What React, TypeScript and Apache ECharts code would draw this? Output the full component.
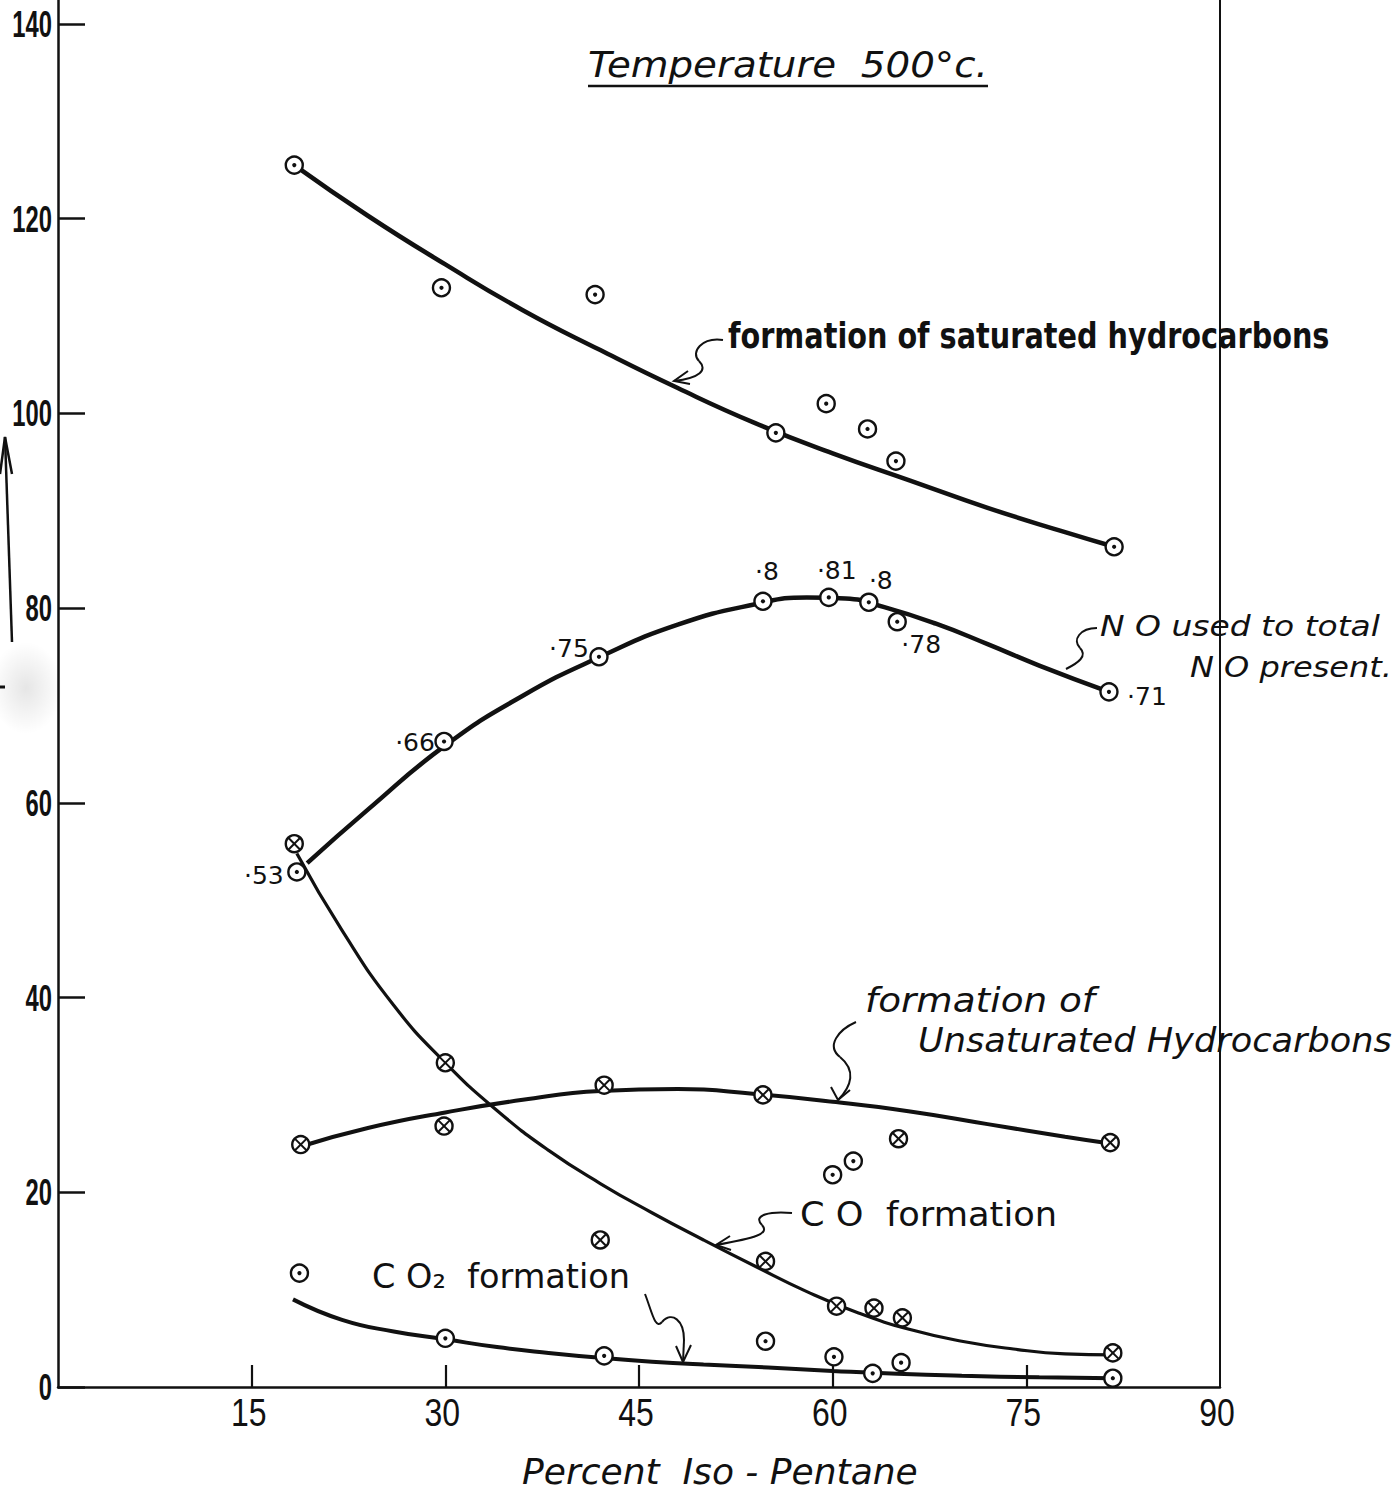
import React, { useEffect, useRef } from "react";
import * as echarts from "echarts";

// ---------- axis ticks ----------
const xTickValues = [15, 30, 45, 60, 75];
const xLabelValues = [15, 30, 45, 60, 75, 90];
const yTickValues = [0, 20, 40, 60, 80, 100, 120, 140];

// ---------- formation of saturated hydrocarbons (⊙) ----------
const satPointX = [18.3, 29.7, 41.6, 55.6, 59.5, 62.7, 64.9, 81.8];
const satPointY = [125.5, 112.9, 112.2, 98.0, 101.0, 98.4, 95.1, 86.3];
const satCurveX = [18.3, 24, 30, 36, 42, 48, 54, 60, 66, 72, 78, 81.8];
const satCurveY = [125.5, 120.3, 115.3, 110.6, 106.5, 102.6, 99.0, 95.9, 93.1, 90.3, 87.8, 86.3];

// ---------- NO used to total NO present (⊙) ----------
const noPointX = [18.5, 29.9, 41.9, 54.6, 59.7, 62.8, 65.0, 81.4];
const noPointY = [52.9, 66.3, 75.0, 80.7, 81.1, 80.6, 78.6, 71.4];
const noLabels = ["·53", "·66", "·75", "·8", "·81", "·8", "·78", "·71"];
const noCurveX = [19.3, 24, 30, 36, 42, 48, 54, 58, 61, 64, 68, 72, 76, 81.4];
const noCurveY = [53.8, 59.3, 65.9, 71.0, 75.0, 78.3, 80.4, 81.1, 81.0, 80.1, 78.4, 76.3, 74.1, 71.4];

// ---------- formation of unsaturated hydrocarbons (⊗) ----------
const unsatPointX = [18.8, 29.9, 42.3, 54.6, 65.1, 81.5];
const unsatPointY = [24.9, 26.8, 31.0, 30.0, 25.5, 25.1];
const unsatCurveX = [18.8, 24, 30, 36, 42, 48, 54, 60, 66, 72, 78, 81.5];
const unsatCurveY = [24.7, 26.6, 28.2, 29.5, 30.4, 30.6, 30.1, 29.3, 28.3, 27.0, 25.7, 25.0];

// ---------- loose ⊙ points near the unsaturated curve ----------
const extraPointX = [60.0, 61.6];
const extraPointY = [21.8, 23.2];

// ---------- CO formation (⊗) ----------
const coPointX = [18.3, 30.0, 42.0, 54.8, 60.3, 63.2, 65.4, 81.7];
const coPointY = [55.8, 33.3, 15.1, 12.9, 8.3, 8.1, 7.1, 3.5];
const coCurveX = [18.5, 22, 26, 30, 34, 38, 42, 46, 50, 54, 58, 62, 66, 70, 74, 78, 81.7];
const coCurveY = [54.8, 46.9, 39.2, 33.3, 28.4, 24.3, 20.9, 17.9, 15.1, 12.4, 9.8, 7.6, 5.9, 4.7, 3.9, 3.4, 3.3];

// ---------- CO2 formation (⊙) ----------
const co2PointX = [18.7, 30.0, 42.3, 54.8, 60.1, 63.1, 65.3, 81.7];
const co2PointY = [11.7, 5.0, 3.2, 4.7, 3.1, 1.4, 2.5, 0.9];
const co2CurveX = [18.2, 22, 26, 30, 34, 38, 42, 46, 50, 55, 60, 65, 70, 76, 81.7];
const co2CurveY = [9.0, 6.9, 5.7, 4.9, 4.1, 3.5, 3.0, 2.6, 2.3, 2.0, 1.65, 1.35, 1.15, 1.0, 0.9];

// label offsets (px) for the NO ratio annotations
const noLabelDx = [-33, -29, -30, 4, 8, 12, 24, 38];
const noLabelDy = [4, 1, -8, -30, -27, -22, 23, 5];

const INK = "#111";

const pairs = (xs: number[], ys: number[]) => xs.map((x, i) => [x, ys[i]]);

let measureCtx: CanvasRenderingContext2D | null = null;
function measureWidth(text: string, font: string) {
  if (!measureCtx) measureCtx = document.createElement("canvas").getContext("2d");
  measureCtx!.font = font;
  return measureCtx!.measureText(text).width;
}

function hand(text: string, left: number, right: number, midY: number, size: number, italic: boolean, bold: boolean) {
  const font = `${italic ? "italic " : ""}${bold ? "bold " : ""}${size}px "DejaVu Sans"`;
  const w = measureWidth(text, font) || 1;
  return {
    type: "text",
    x: left,
    y: midY,
    scaleX: (right - left) / w,
    z: 20,
    style: {
      text,
      x: 0,
      y: 0,
      fill: INK,
      fontSize: size,
      fontFamily: "DejaVu Sans",
      fontStyle: italic ? "italic" : "normal",
      fontWeight: bold ? "bold" : "normal",
      textAlign: "left",
      textVerticalAlign: "middle",
    },
  };
}

function axisText(text: string, x: number, y: number, align: string, size: number, weight: string, sx: number) {
  return {
    type: "text",
    x,
    y,
    scaleX: sx,
    z: 20,
    style: {
      text,
      x: 0,
      y: 0,
      fill: INK,
      fontSize: size,
      fontFamily: "Liberation Sans",
      fontWeight: weight,
      textAlign: align,
      textVerticalAlign: "middle",
    },
  };
}

function curve(xs: number[], ys: number[], width: number) {
  return {
    type: "line",
    data: pairs(xs, ys),
    smooth: true,
    symbol: "none",
    z: 2,
    lineStyle: { color: INK, width },
    silent: true,
  };
}

function markers(xs: number[], ys: number[], kind: "dot" | "cross", labels?: string[]) {
  return {
    type: "custom",
    data: pairs(xs, ys),
    z: 5,
    renderItem: (params: any, api: any) => {
      const p = api.coord([api.value(0), api.value(1)]);
      const r = 8.5;
      const children: any[] = [
        { type: "circle", shape: { cx: p[0], cy: p[1], r }, style: { fill: "#fff", stroke: INK, lineWidth: 2.4 } },
      ];
      if (kind === "dot") {
        children.push({ type: "circle", shape: { cx: p[0], cy: p[1], r: 2.1 }, style: { fill: INK } });
      } else {
        const d = r * 0.7;
        children.push({ type: "line", shape: { x1: p[0] - d, y1: p[1] - d, x2: p[0] + d, y2: p[1] + d }, style: { stroke: INK, lineWidth: 2 } });
        children.push({ type: "line", shape: { x1: p[0] - d, y1: p[1] + d, x2: p[0] + d, y2: p[1] - d }, style: { stroke: INK, lineWidth: 2 } });
      }
      if (labels) {
        const i = params.dataIndex;
        children.push({
          type: "text",
          x: p[0] + noLabelDx[i],
          y: p[1] + noLabelDy[i],
          style: {
            text: labels[i],
            fill: INK,
            fontSize: 25,
            fontFamily: "DejaVu Sans",
            textAlign: "center",
            textVerticalAlign: "middle",
          },
        });
      }
      return { type: "group", children };
    },
  };
}

function bez(x1: number, y1: number, cpx1: number, cpy1: number, cpx2: number, cpy2: number, x2: number, y2: number, w = 2) {
  return {
    type: "bezierCurve",
    z: 20,
    shape: { x1, y1, cpx1, cpy1, cpx2, cpy2, x2, y2 },
    style: { stroke: INK, lineWidth: w, fill: "none" },
  };
}
function poly(points: number[][], w = 2) {
  return { type: "polyline", z: 20, shape: { points }, style: { stroke: INK, lineWidth: w, fill: "none" } };
}

export default function App() {
  const ref = useRef<HTMLDivElement>(null);
  useEffect(() => {
    document.body.style.margin = "0";
    const chart = echarts.init(ref.current!, null, { renderer: "svg" });
    const yMax = 142.46;
    const decorations: any[] = [
      // faint stippled smudge near the left arrow
      {
        type: "ellipse",
        z: 0,
        shape: { cx: 26, cy: 688, rx: 36, ry: 46 },
        style: {
          fill: {
            type: "radial", x: 0.5, y: 0.5, r: 0.5,
            colorStops: [
              { offset: 0, color: "rgba(0,0,0,0.10)" },
              { offset: 1, color: "rgba(0,0,0,0)" },
            ],
          },
        },
      },
      // upward arrow on the left
      poly([[12, 642], [5, 437]], 2.5),
      poly([[0, 474], [5, 437], [12, 474]], 2.5),
      poly([[0, 687], [5, 687]], 3),
      // title
      hand("Temperature  500°c.", 588, 988, 64, 36, true, false),
      poly([[588, 86], [988, 86]], 2.5),
      // saturated hydrocarbons
      hand("formation of saturated hydrocarbons", 728, 1330, 336, 36, false, true),
      bez(723, 340, 702, 337, 690, 352, 699, 361),
      bez(699, 361, 708, 370, 700, 378, 674, 381),
      poly([[688, 371], [674, 381], [690, 384]]),
      // NO used
      hand("N O used to total", 1100, 1380, 626, 29, true, false),
      hand("N O present.", 1190, 1392, 667, 29, true, false),
      bez(1097, 628, 1080, 628, 1072, 640, 1080, 648),
      bez(1080, 648, 1088, 656, 1078, 663, 1066, 669),
      // unsaturated
      hand("formation of", 865, 1095, 1000, 33, true, false),
      hand("Unsaturated Hydrocarbons", 918, 1392, 1040, 33, true, false),
      bez(856, 1022, 838, 1030, 826, 1046, 840, 1057),
      bez(840, 1057, 856, 1070, 852, 1086, 838, 1100),
      poly([[831, 1087], [838, 1100], [850, 1090]]),
      // CO
      hand("C O  formation", 800, 1057, 1214, 34, false, false),
      bez(792, 1213, 770, 1211, 752, 1215, 762, 1225),
      bez(762, 1225, 770, 1234, 755, 1238, 716, 1245),
      poly([[730, 1236], [716, 1245], [731, 1250]]),
      // CO2
      hand("C O₂  formation", 372, 630, 1276, 34, false, false),
      bez(645, 1294, 652, 1312, 655, 1330, 662, 1322),
      bez(662, 1322, 672, 1311, 684, 1320, 684, 1340),
      poly([[684, 1340], [683, 1362]]),
      poly([[676, 1346], [683, 1362], [691, 1345]]),
      // x-axis title
      hand("Percent  Iso - Pentane", 522, 918, 1472, 36, true, false),
    ];
    const option: any = {
      animation: false,
      backgroundColor: "#fff",
      grid: { left: 58, right: 180, top: 0, bottom: 109, containLabel: false, outerBoundsMode: "none" },
      xAxis: {
        type: "value",
        min: 0,
        max: 90,
        interval: 15,
        axisLine: { show: true, lineStyle: { color: INK, width: 2.5 } },
        axisTick: { show: true, inside: true, length: 22, customValues: xTickValues, lineStyle: { color: INK, width: 2.2 } },
        axisLabel: { show: false },
        splitLine: { show: false },
      },
      yAxis: [
        {
          type: "value",
          min: 0,
          max: yMax,
          interval: 20,
          axisLine: { show: true, lineStyle: { color: INK, width: 2.5 } },
          axisTick: { show: true, inside: true, length: 27, customValues: yTickValues, lineStyle: { color: INK, width: 2.5 } },
          axisLabel: { show: false },
          splitLine: { show: false },
        },
        {
          type: "value",
          position: "right",
          min: 0,
          max: yMax,
          axisLine: { show: true, lineStyle: { color: INK, width: 2 } },
          axisTick: { show: false },
          axisLabel: { show: false },
          splitLine: { show: false },
        },
      ],
      series: [
        curve(satCurveX, satCurveY, 4.5),
        curve(noCurveX, noCurveY, 4.5),
        curve(unsatCurveX, unsatCurveY, 4),
        curve(coCurveX, coCurveY, 3.2),
        curve(co2CurveX, co2CurveY, 4),
        markers(satPointX, satPointY, "dot"),
        markers(noPointX, noPointY, "dot", noLabels),
        markers(unsatPointX, unsatPointY, "cross"),
        markers(extraPointX, extraPointY, "dot"),
        markers(coPointX, coPointY, "cross"),
        markers(co2PointX, co2PointY, "dot"),
      ],
      graphic: decorations,
    };
    chart.setOption(option);

    // hand-lettered (narrow) tick labels, placed through the axes' own scales
    const labels: any[] = [];
    yTickValues.forEach((v) => {
      const p = chart.convertToPixel({ xAxisIndex: 0, yAxisIndex: 0 }, [0, v]) as number[];
      labels.push(axisText(String(v), p[0] - 6, p[1], "right", 36, "bold", 0.66));
    });
    xLabelValues.forEach((v) => {
      const p = chart.convertToPixel({ xAxisIndex: 0, yAxisIndex: 0 }, [v, 0]) as number[];
      labels.push(axisText(String(v), p[0] - 3, p[1] + 26, "center", 39, "normal", 0.82));
    });
    chart.setOption({ graphic: [...decorations, ...labels] });
    return () => chart.dispose();
  }, []);
  return <div ref={ref} style={{ width: 1400, height: 1496 }} />;
}
